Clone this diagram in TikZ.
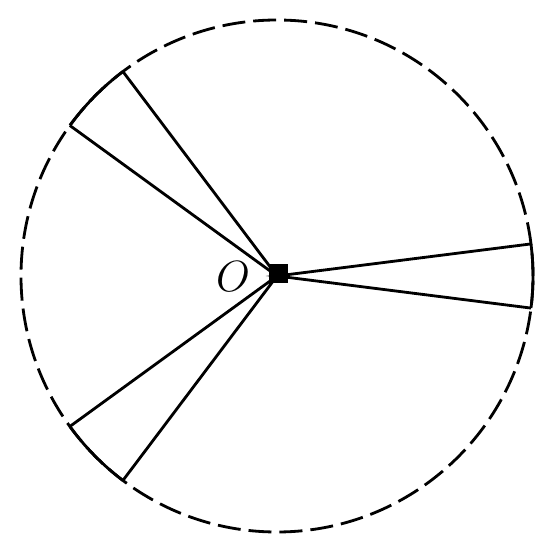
\documentclass[tikz,border=0pt]{standalone}

\tikzset{
  rim/.style={line width=1.6pt, dash pattern=on 0.46cm off 0.16cm},
  wedge/.style={line width=1.6pt},
  centre/.style={fill=black, inner sep=0pt, minimum size=0.38cm}
}

\begin{document}
\begin{tikzpicture}
      \useasboundingbox (-5.54, -5.48) rectangle (5.46, 5.52);

      \draw[rim] (0, 0) circle (5.12);
      \node[centre] (O) at (0.02, 0.04) {};
      \node (Olabel) at (-0.88, -0.02) {\fontsize{23}{28}\selectfont$O$};

      \draw[wedge] (127:5.12) -- (0, 0) -- (144:5.12);
      \draw[wedge] (127:5.12) arc (127:144:5.12);

      \draw[wedge] (216:5.12) -- (0, 0) -- (233:5.12);
      \draw[wedge] (216:5.12) arc (216:233:5.12);

      \draw[wedge] (-7.2:5.12) -- (0, 0) -- (7.2:5.12);
      \draw[wedge] (-7.2:5.12) arc (-7.2:7.2:5.12);
    \end{tikzpicture}
\end{document}
